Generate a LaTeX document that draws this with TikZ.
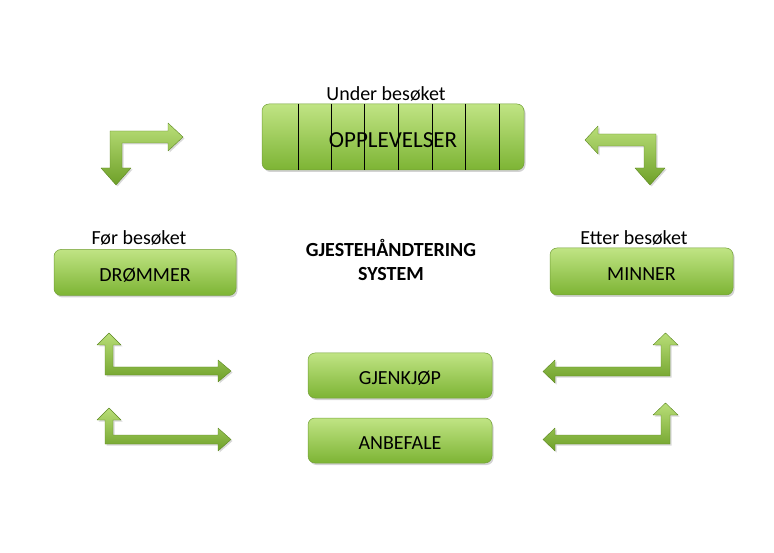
\documentclass[tikz,border=0pt]{standalone}
\usepackage{fontspec}
\setmainfont{Carlito}
\usetikzlibrary{shadows}
\definecolor{boxtop}{RGB}{192,228,132}
\definecolor{boxbot}{RGB}{125,180,52}
\definecolor{boxedge}{RGB}{115,160,55}
\definecolor{arrtop}{RGB}{185,222,120}
\definecolor{arrbot}{RGB}{110,160,40}
\tikzset{
  box/.style={rounded corners=7pt, top color=boxtop, bottom color=boxbot, draw=boxedge, line width=0.5pt,
    drop shadow={shadow xshift=1.5pt, shadow yshift=-2pt, opacity=0.35}, inner sep=0pt,
    text height=18.5pt, text depth=0pt, font=\fontsize{20}{22}\selectfont},
  arr/.style={top color=arrtop, bottom color=arrbot, draw=arrbot!85!black, line width=0.4pt, line join=round,
    drop shadow={shadow xshift=1.5pt, shadow yshift=-1.5pt, opacity=0.3}},
  lbl/.style={font=\fontsize{20}{22}\selectfont, inner sep=0pt},
  title/.style={font=\bfseries\fontsize{20}{24}\selectfont, align=center, inner sep=0pt}
}
\begin{document}
\begin{tikzpicture}[x=1pt,y=-1pt]
\useasboundingbox (0,0) rectangle (774,553);
% boxes
\node[box, minimum width=262pt, minimum height=66pt, text height=22pt, font=\fontsize{23}{25}\selectfont] (opp) at (393,137) {OPPLEVELSER};
\foreach \x in {298,331,364,398,432,465,499}
  \draw[line width=0.6pt] (\x,0 |- opp.north) -- (\x,0 |- opp.south);
\node[box, minimum width=182pt, minimum height=46pt] (drom) at (145,272.5) {DRØMMER};
\node[box, minimum width=183pt, minimum height=47pt] (minn) at (641.5,271.5) {MINNER};
\node[box, minimum width=184pt, minimum height=45pt] (gjen) at (400,375.5) {GJENKJØP};
\node[box, minimum width=184pt, minimum height=45pt] (anb) at (400,440.5) {ANBEFALE};
% labels
\node[lbl] (under) at (386,94) {Under besøket};
\node[lbl] (for) at (139,238) {Før besøket};
\node[lbl] (etter) at (634,238) {Etter besøket};
\node[title] (sys) at (391,260) {GJESTEHÅNDTERING\\SYSTEM};
% top arrows
\path[arr] (110,131) -- (168,131) -- (168,123) -- (183,137) -- (168,151) -- (168,143) -- (122,143) -- (122,168) -- (131,168) -- (116,185) -- (101,168) -- (110,168) -- cycle;
\path[arr] (656,134) -- (598,134) -- (598,126) -- (585,140) -- (598,154) -- (598,146) -- (644,146) -- (644,168) -- (635,168) -- (650,185) -- (665,168) -- (656,168) -- cycle;
% bottom-left arrows
\path[arr] (105,375) -- (105,345) -- (97,345) -- (109,333) -- (121,345) -- (113,345) -- (113,367) -- (218,367) -- (218,360) -- (231,371) -- (218,382) -- (218,375) -- cycle;
\path[arr] (105,444) -- (105,420) -- (97,420) -- (109,408) -- (121,420) -- (113,420) -- (113,435) -- (218,435) -- (218,428) -- (231,439.5) -- (218,451) -- (218,444) -- cycle;
% bottom-right arrows
\path[arr] (670,376) -- (670,345) -- (678,345) -- (665.5,333) -- (653,345) -- (661,345) -- (661,367) -- (555,367) -- (555,360) -- (543,371.5) -- (555,383) -- (555,376) -- cycle;
\path[arr] (670,444) -- (670,415) -- (678,415) -- (665.5,403) -- (653,415) -- (661,415) -- (661,435) -- (555,435) -- (555,428) -- (543,439.5) -- (555,451) -- (555,444) -- cycle;
\end{tikzpicture}
\end{document}
